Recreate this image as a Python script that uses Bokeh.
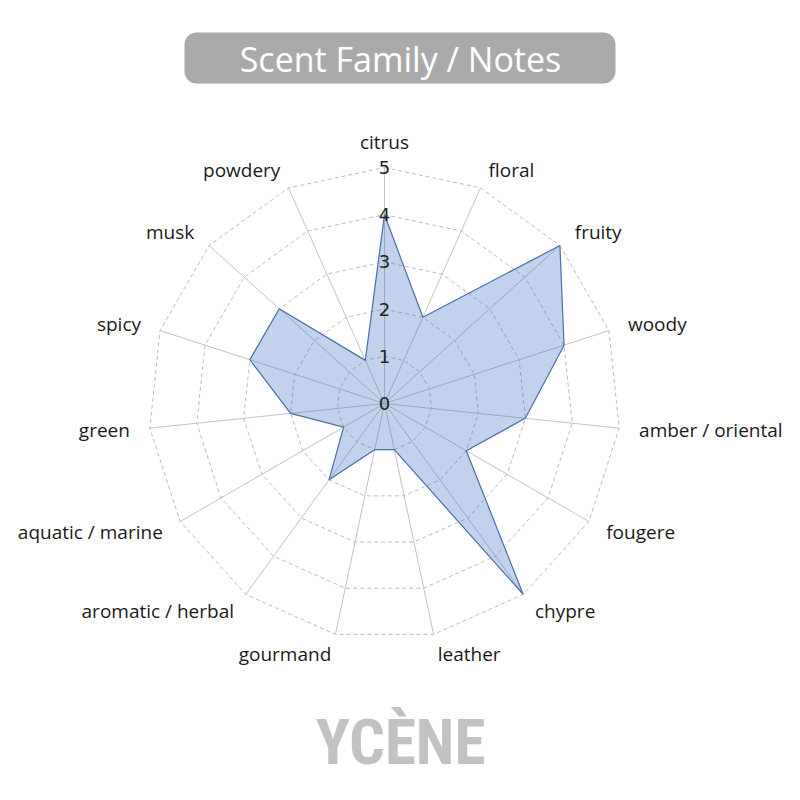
import numpy as np
from bokeh.plotting import figure
from bokeh.models import Range1d, ColumnDataSource
from bokeh.core.properties import value
from bokeh.embed import file_html
from bokeh.resources import INLINE

# ---- data ----
categories = ["citrus", "floral", "fruity", "woody", "amber / oriental", "fougere",
              "chypre", "leather", "gourmand", "aromatic / herbal", "aquatic / marine",
              "green", "spicy", "musk", "powdery"]
scores = [4, 2, 5, 4, 3, 2, 5, 1, 1, 2, 1, 2, 3, 3, 1]
tick_values = [0, 1, 2, 3, 4, 5]
title_text = "Scent Family / Notes"
logo_text = "YCÈNE"

# ---- layout (screen pixel helpers) ----
S = 47.2            # pixels per unit
CX, CY = 384, 403   # screen centre of the radar
W = H = 784
X0 = Y0 = 0         # observed page offset of the figure

def sx(px):
    return (px - CX) / S

def sy(py):
    return (CY - py) / S

p = figure(width=W, height=H, output_backend="svg", toolbar_location=None,
           x_range=Range1d(sx(X0), sx(X0 + W)), y_range=Range1d(sy(Y0 + H), sy(Y0)),
           min_border=0, outline_line_color=None, background_fill_color="white")
p.axis.visible = False
p.grid.visible = False

n = len(categories)
ang = np.arange(n) * 2 * np.pi / n
rmax = max(tick_values)

# rings (dashed polygons)
for r in tick_values[1:]:
    xs = list(r * np.sin(ang)) + [0.0]
    ys = list(r * np.cos(ang)) + [0.0]
    xs[-1], ys[-1] = xs[0], ys[0]
    p.line(xs, ys, line_color="#bdbdbd", line_width=1, line_dash="4 3")

# spokes
p.segment(x0=[0] * n, y0=[0] * n, x1=list(rmax * np.sin(ang)), y1=list(rmax * np.cos(ang)),
          line_color="#c4c4c4", line_width=1)

# data polygon
vals = np.array(scores, dtype=float)
p.patch(list(vals * np.sin(ang)), list(vals * np.cos(ang)),
        fill_color="#4472c4", fill_alpha=0.32, line_color="#4a6ea9", line_width=1.2)

# category labels
lr = rmax + 20 / S
lx = lr * np.sin(ang)
ly = lr * np.cos(ang)
aligns = ["center" if abs(s) < 1e-6 else ("left" if s > 0 else "right") for s in np.sin(ang)]
offs = [-6 if abs(s) < 1e-6 else 0 for s in np.sin(ang)]
src = ColumnDataSource(dict(x=lx, y=ly, t=categories, a=aligns, o=offs))
p.text(x="x", y="y", text="t", text_align="a", y_offset="o", source=src,
       text_baseline="middle", text_font=value("Open Sans"), text_font_size="19px",
       text_color="#1a1a1a")

# tick labels
p.text(x=[0] * len(tick_values), y=tick_values, text=[str(t) for t in tick_values],
       text_align="center", text_baseline="middle", text_font=value("DejaVu Sans"),
       text_font_size="18px", text_color="#222222")

# title box
p.quad(left=[sx(184)], right=[sx(615)], top=[sy(32)], bottom=[sy(83)],
       fill_color="#aaaaaa", line_color=None, border_radius=12)
p.text(x=[sx(400)], y=[sy(58)], text=[title_text], text_align="center",
       text_baseline="middle", text_font=value("Open Sans"), text_font_size="34px",
       text_color="white")

# logo
p.text(x=[sx(400)], y=[sy(742)], text=[logo_text], text_align="center",
       text_baseline="middle",
       text_font=value("'Roboto Condensed', 'DejaVu Sans Condensed', 'Liberation Sans Narrow', sans-serif"),
       text_font_style="bold", text_font_size="63px", text_color="#c2c2c2")

open("out.html", "w").write(file_html(p, INLINE))
